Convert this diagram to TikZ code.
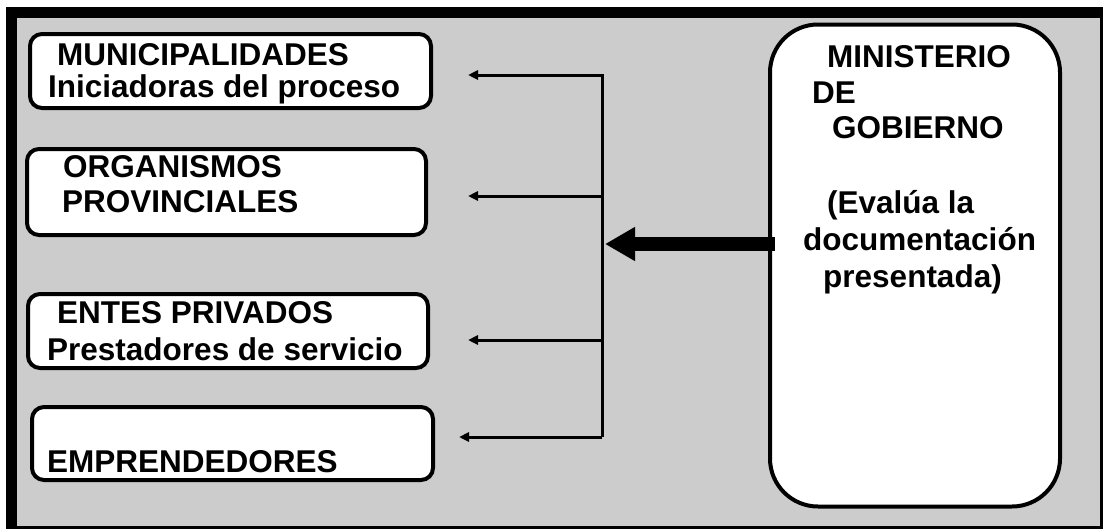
\documentclass[tikz,border=0pt]{standalone}
\usepackage{fontspec}
\setmainfont{Liberation Sans}
\usetikzlibrary{arrows.meta}
\definecolor{fondo}{RGB}{204,204,204}

\begin{document}
\begin{tikzpicture}[x=1pt, y=-1pt,
  caja/.style={draw, line width=4pt, fill=white, rounded corners=12pt, inner sep=0pt},
  texto/.style={anchor=base west, inner sep=0pt, font=\fontsize{31.5}{36}\selectfont\bfseries},
  flecha/.style={line width=3pt, -{Triangle[length=10pt, width=9pt]}}]
  \useasboundingbox (0,0) rectangle (1105,530);

  % Fondo gris con marco (grueso arriba e izquierda, fino abajo y derecha)
  \fill[fondo] (6,7) rectangle (1103,528);
  \fill (6,7) rectangle (1103,18);
  \fill (6,7) rectangle (17,528);
  \draw[line width=3pt] (1101.5,7) -- (1101.5,527.5) -- (6,527.5);

  % Cajas de la izquierda
  \node[caja, minimum width=401pt, minimum height=74pt] (muni) at (230.5,71) {};
  \node[caja, minimum width=399pt, minimum height=86pt] (orga) at (226.5,192) {};
  \node[caja, minimum width=400pt, minimum height=74pt] (entes) at (228,331) {};
  \node[caja, minimum width=401pt, minimum height=73pt] (empr) at (232.5,443.5) {};

  % Caja del ministerio
  \node[caja, rounded corners=48pt, minimum width=290pt, minimum height=482pt] (mingob) at (915,265.5) {};

  % Textos de las cajas
  \node[texto] at (57,65) {MUNICIPALIDADES};
  \node[texto] at (48,97) {Iniciadoras del proceso};
  \node[texto] at (63,177) {ORGANISMOS};
  \node[texto] at (62,212) {PROVINCIALES};
  \node[texto] at (57,323) {ENTES PRIVADOS};
  \node[texto] at (47,360) {Prestadores de servicio};
  \node[texto] at (47,472) {EMPRENDEDORES};

  \node[texto] at (827,67) {MINISTERIO};
  \node[texto] at (812,103) {DE};
  \node[texto] at (832,138) {GOBIERNO};
  \node[texto] at (827,213) {(Evalúa la};
  \node[texto] at (803,250) {documentación};
  \node[texto] at (823,287) {presentada)};

  % Puntos de la barra vertical y puntas de flecha
  \coordinate (bus1) at (602,75);
  \coordinate (bus2) at (602,196);
  \coordinate (bus3) at (602,340);
  \coordinate (bus4) at (602,437);
  \coordinate (tip1) at (468,75);
  \coordinate (tip2) at (468,196);
  \coordinate (tip3) at (468,340);
  \coordinate (tip4) at (459,437);

  % Barra vertical con las flechas finas
  \draw[flecha] (bus4) -- (bus1) -- (tip1);
  \draw[flecha] (bus2) -- (tip2);
  \draw[flecha] (bus3) -- (tip3);
  \draw[flecha] (bus4) -- (tip4);

  % Flecha gruesa desde el ministerio
  \coordinate (salida) at (775,244);
  \coordinate (llegada) at (605,244);
  \draw[line width=14pt, -{Triangle[length=30pt, width=32pt]}] (salida) -- (llegada);
\end{tikzpicture}
\end{document}
